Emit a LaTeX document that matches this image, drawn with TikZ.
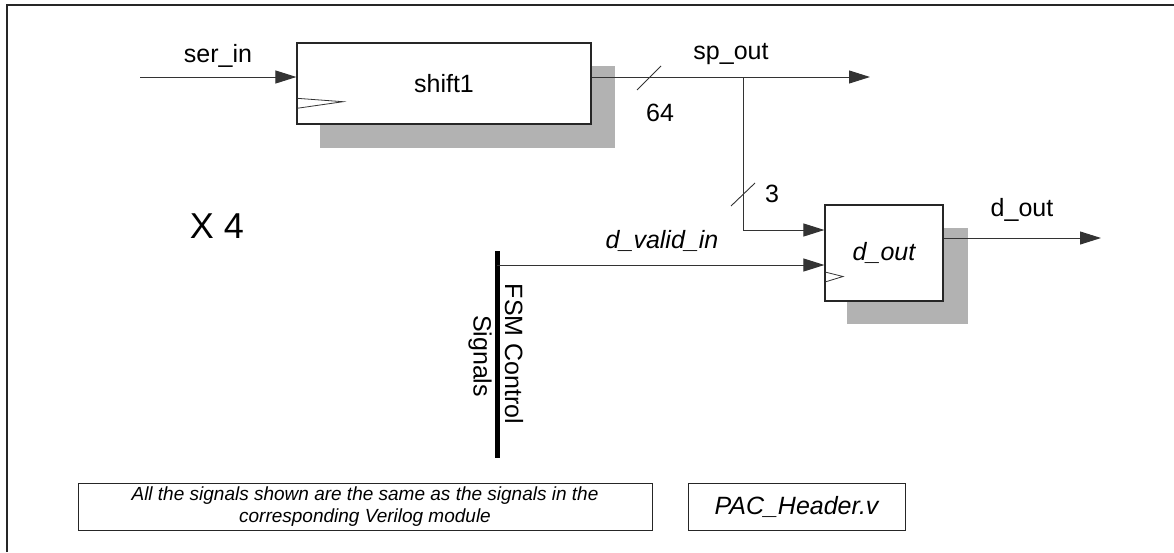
\documentclass[tikz,border=0pt]{standalone}
\usepackage{fontspec}
\setmainfont{Liberation Sans}
\usetikzlibrary{arrows.meta}
\begin{document}
\begin{tikzpicture}[x=1pt,y=-1pt,
  wire/.style={draw=black!80, line width=1pt},
  sig/.style={wire, -{Triangle[length=21pt,width=13pt]}},
  block/.style={draw=black!85, line width=1.2pt, fill=white, inner sep=0pt},
  shade/.style={fill=black!30, draw=none},
  lbl/.style={font=\fontsize{25}{28}\selectfont, inner sep=0pt},
  ilbl/.style={lbl, font=\fontsize{25}{28}\selectfont\itshape},
  note/.style={draw=black!85, line width=1pt, inner sep=0pt, align=center},
  slash/.style={draw=black!80, line width=0.9pt},
  clk/.style={draw=black!80, line width=0.8pt}
]
\useasboundingbox (0,0) rectangle (1174,552);
% page frame
\draw[line width=1.4pt, black!85] (7,552) -- (7,5) -- (1174,5);

% shift register with its drop shadow
\fill[shade] (320,66) rectangle (615,148);
\node[block, minimum width=294pt, minimum height=81pt, font=\fontsize{25}{28}\selectfont] (shift) at (444,83.5) {shift1};
\draw[clk] (297,98.3) -- (343,101.7) -- (297,108.3);

% output register with its drop shadow
\fill[shade] (847,228) rectangle (968,324);
\node[block, minimum width=118pt, minimum height=96pt, font=\fontsize{25}{28}\selectfont\itshape] (dreg) at (884,253) {d\_out};
\draw[clk] (825,272) -- (843,276.5) -- (825,282);

% serial input
\coordinate (serin) at (140,77);
\coordinate (shiftin) at (shift.west |- serin);
\draw[sig] (serin) -- (shiftin);
\node[lbl] (serinlbl) at (218,56) {ser\_in};

% parallel output bus
\coordinate (spstart) at (shift.east |- serin);
\coordinate (spend) at (870,77);
\draw[sig] (spstart) -- (spend);
\node[lbl] (splbl) at (731,54) {sp\_out};
\draw[slash] (637,90) -- (661,66);
\node[lbl] (w64) at (660,113) {64};

% 3-bit tap into the output register
\coordinate (tap) at (743,77);
\coordinate (tapdown) at (743,230);
\coordinate (dregin) at (dreg.west |- tapdown);
\draw[sig] (tap) -- (tapdown) -- (dregin);
\draw[slash] (731,206) -- (755,183);
\node[lbl] (w3) at (772,194) {3};

% register output
\coordinate (doutstart) at (dreg.east |- 0,238);
\coordinate (doutend) at (1101,238);
\draw[sig] (doutstart) -- (doutend);
\node[lbl] (doutlbl) at (1022,210) {d\_out};

% FSM control bus
\coordinate (fsmtop) at (497,251);
\coordinate (fsmbot) at (497,458);
\draw[line width=5pt] (fsmtop) -- (fsmbot);
\node[lbl, rotate=-90] (fsmlbl) at (514,354) {FSM Control};
\node[lbl, rotate=-90] (siglbl) at (480,356) {Signals};

% valid strobe from the FSM
\coordinate (validsrc) at (497,265);
\coordinate (validdst) at (dreg.west |- validsrc);
\draw[sig] (validsrc) -- (validdst);
\node[ilbl] (validlbl) at (662,241) {d\_valid\_in};

% replication count
\node[font=\fontsize{36}{40}\selectfont, inner sep=0pt] (rep) at (217,226) {X 4};

% notes
\node[note, minimum width=574pt, minimum height=47pt, font=\fontsize{19}{22}\selectfont\itshape] (notebox) at (365,506.5)
  {All the signals shown are the same as the signals in the\\corresponding Verilog module};
\node[note, minimum width=217pt, minimum height=47pt, font=\fontsize{25}{28}\selectfont\itshape] (modbox) at (796.5,506.5) {PAC\_Header.v};
\end{tikzpicture}
\end{document}
